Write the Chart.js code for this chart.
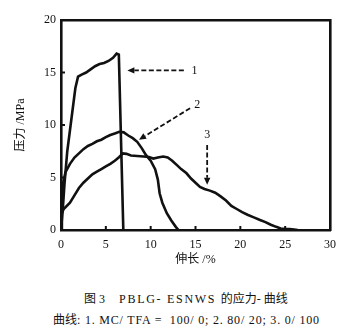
<!DOCTYPE html>
<html>
<head>
<meta charset="utf-8">
<script src="https://cdn.jsdelivr.net/npm/chart.js@4/dist/chart.umd.min.js"></script>
<style>
  html, body { margin: 0; padding: 0; background: #fff; }
  #wrap { position: relative; width: 356px; height: 333px; overflow: hidden; }
  #box { position: absolute; left: 0; top: 0; width: 356px; height: 270px; }
  .cap { position: absolute; color: #111;
         font-family: "Liberation Serif", "Noto Sans CJK SC", serif; font-size: 12px;
         line-height: 14px; white-space: pre; }
  .lat1 { letter-spacing: 1.7px; }
  .lat2 { letter-spacing: 0.8px; }
</style>
</head>
<body>
<div id="wrap">
  <div id="box"><canvas id="c"></canvas></div>
  <div class="cap" style="top:292px; left:84px;">图 3<span class="lat1">   PBLG- ESNWS </span>的应力- 曲线</div>
  <div class="cap" style="top:313px; left:53px;">曲线<span class="lat2">: 1. MC/ TFA =  100/ 0; 2. 80/ 20; 3. 0/ 100</span></div>
</div>
<script>
// Stress–strain curves, strain (%) vs stress (MPa)
const strain1 = [0, 0.2, 0.4, 0.7, 1.0, 1.3, 1.6, 1.9, 2.3, 2.8, 3.3, 3.8, 4.3, 4.8, 5.3, 5.8, 6.2, 6.45, 6.95];
const stress1 = [0, 2.0, 4.5, 7.5, 9.5, 11.5, 13.5, 14.6, 14.8, 15.0, 15.3, 15.6, 15.8, 15.9, 16.1, 16.4, 16.8, 16.7, 0];

const strain2 = [0, 0.1, 0.25, 0.5, 1.0, 1.5, 2.0, 2.5, 3.0, 3.5, 4.0, 4.5, 5.0, 5.5, 6.0, 6.5, 7.0, 7.5, 8.0, 8.5, 9.0, 9.5, 10.0, 10.5, 10.8, 11.0, 11.3, 11.8, 12.3, 12.8, 13.1];
const stress2 = [0, 2.5, 4.5, 5.5, 6.3, 6.9, 7.3, 7.7, 8.0, 8.2, 8.45, 8.6, 8.85, 9.05, 9.2, 9.35, 9.3, 9.0, 8.75, 8.4, 7.8, 7.1, 6.6, 5.8, 4.8, 3.5, 2.6, 1.6, 0.9, 0.3, 0];

const strain3 = [0, 0.05, 0.3, 1.0, 1.5, 2.0, 2.5, 3.0, 3.5, 4.0, 4.5, 5.0, 5.5, 6.0, 6.5, 6.9, 7.3, 7.8, 8.5, 9.2, 9.8, 10.3, 10.8, 11.4, 11.9, 12.4, 12.9, 13.4, 14.0, 14.5, 15.0, 15.5, 16.0, 16.6, 17.2, 17.8, 18.4, 19.0, 19.6, 20.2, 20.8, 21.5, 22.2, 22.8, 23.4, 24.0, 24.5, 25.0, 25.5, 26.0, 26.4];
const stress3 = [0, 1.5, 2.0, 2.6, 3.3, 4.0, 4.5, 4.9, 5.3, 5.55, 5.8, 6.05, 6.3, 6.6, 6.95, 7.3, 7.25, 7.1, 7.05, 7.0, 6.95, 6.8, 6.9, 7.0, 6.9, 6.6, 6.2, 5.8, 5.4, 4.9, 4.5, 4.1, 3.9, 3.75, 3.55, 3.2, 2.8, 2.3, 2.0, 1.7, 1.45, 1.2, 0.95, 0.75, 0.5, 0.3, 0.15, 0.1, 0.1, 0.05, 0];

const xTicks = [0, 5, 10, 15, 20, 25, 30];
const yTicks = [0, 5, 10, 15, 20];

// Curve call-outs: dashed arrows (tail -> head) and their numbers, in data units
const calloutNames = ['1', '2', '3'];
const calloutTails = [[13.7, 15.2], [14.4, 11.6], [16.3, 8.1]];
const calloutHeads = [[7.4, 15.2], [8.7, 8.6], [16.3, 4.3]];
const calloutText  = [[14.9, 15.2], [15.2, 11.9], [16.3, 9.1]];

const toPoints = (xs, ys) => xs.map((x, i) => ({ x, y: ys[i] }));

const serif = '"Liberation Serif", "Noto Sans CJK SC", serif';
const ink = '#111';

const lineStyle = {
  borderColor: ink, borderWidth: 2.6, pointRadius: 0, tension: 0, fill: false
};

// Inner tick marks on the frame, plus the numbered arrows
const decorations = {
  id: 'decorations',
  afterDatasetsDraw(chart) {
    const { ctx, chartArea: a, scales: { x, y } } = chart;
    ctx.save();
    ctx.strokeStyle = ink;
    ctx.lineWidth = 2;
    xTicks.forEach(v => {
      if (v === xTicks[0] || v === xTicks[xTicks.length - 1]) return;
      const px = x.getPixelForValue(v);
      ctx.beginPath(); ctx.moveTo(px, a.bottom); ctx.lineTo(px, a.bottom - 4); ctx.stroke();
    });
    yTicks.forEach(v => {
      if (v === yTicks[0] || v === yTicks[yTicks.length - 1]) return;
      const py = y.getPixelForValue(v);
      ctx.beginPath(); ctx.moveTo(a.left, py); ctx.lineTo(a.left + 4, py); ctx.stroke();
    });

    calloutNames.forEach((name, i) => {
      const tx = x.getPixelForValue(calloutTails[i][0]);
      const ty = y.getPixelForValue(calloutTails[i][1]);
      const hx = x.getPixelForValue(calloutHeads[i][0]);
      const hy = y.getPixelForValue(calloutHeads[i][1]);
      const ang = Math.atan2(hy - ty, hx - tx);
      const headLen = 7, headW = 3.2;
      const bx = hx - headLen * Math.cos(ang), by = hy - headLen * Math.sin(ang);
      ctx.setLineDash([5, 2.5]);
      ctx.lineWidth = 1.8;
      ctx.beginPath(); ctx.moveTo(tx, ty); ctx.lineTo(bx, by); ctx.stroke();
      ctx.setLineDash([]);
      ctx.fillStyle = ink;
      ctx.beginPath();
      ctx.moveTo(hx, hy);
      ctx.lineTo(bx + headW * Math.sin(ang), by - headW * Math.cos(ang));
      ctx.lineTo(bx - headW * Math.sin(ang), by + headW * Math.cos(ang));
      ctx.closePath(); ctx.fill();

      ctx.font = '12px ' + serif;
      ctx.textAlign = 'center';
      ctx.textBaseline = 'middle';
      ctx.fillText(name, x.getPixelForValue(calloutText[i][0]), y.getPixelForValue(calloutText[i][1]));
    });
    ctx.restore();
  }
};

new Chart(document.getElementById('c'), {
  type: 'line',
  data: {
    datasets: [
      { ...lineStyle, data: toPoints(strain1, stress1) },
      { ...lineStyle, data: toPoints(strain2, stress2) },
      { ...lineStyle, data: toPoints(strain3, stress3) }
    ]
  },
  options: {
    responsive: true,
    maintainAspectRatio: false,
    animation: false,
    layout: { padding: { left: 0, top: 20, right: 26, bottom: 0 } },
    plugins: { legend: { display: false }, tooltip: { enabled: false } },
    scales: {
      x: {
        type: 'linear', min: 0, max: 30,
        afterBuildTicks: s => { s.ticks = xTicks.map(v => ({ value: v })); },
        afterFit: s => { s.height = 40; },
        grid: { display: false, drawTicks: false },
        border: { display: true, color: ink, width: 2.6 },
        ticks: { color: ink, padding: 8, font: { family: serif, size: 12 }, maxRotation: 0 },
        title: { display: true, text: '伸长 /%', color: ink, padding: { top: 0, bottom: 3 }, font: { family: serif, size: 12 } }
      },
      y: {
        type: 'linear', min: 0, max: 20,
        afterBuildTicks: s => { s.ticks = yTicks.map(v => ({ value: v })); },
        afterFit: s => { s.width = 61; },
        grid: { display: false, drawTicks: false },
        border: { display: true, color: ink, width: 2.6 },
        ticks: { color: ink, padding: 5, font: { family: serif, size: 12 } },
        title: { display: true, text: '压力 /MPa', color: ink, padding: { top: 14, bottom: 0 }, font: { family: serif, size: 12 } }
      },
      x2: {
        type: 'linear', position: 'top', min: 0, max: 30, display: true,
        afterFit: s => { s.height = 0; },
        grid: { display: false, drawTicks: false },
        border: { display: true, color: ink, width: 2.6 },
        ticks: { display: false }
      },
      y2: {
        type: 'linear', position: 'right', min: 0, max: 20, display: true,
        afterFit: s => { s.width = 0; },
        grid: { display: false, drawTicks: false },
        border: { display: true, color: ink, width: 2.6 },
        ticks: { display: false }
      }
    }
  },
  plugins: [decorations]
});
</script>
</body>
</html>
